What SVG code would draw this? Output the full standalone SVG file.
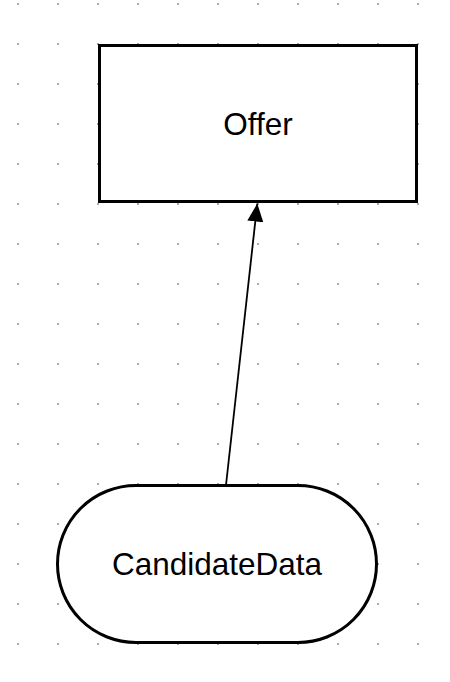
<svg xmlns="http://www.w3.org/2000/svg" width="450" height="682" viewBox="0 0 450 682">
  <defs>
    <pattern id="grid" x="0" y="0" width="40" height="40" patternUnits="userSpaceOnUse">
      <rect x="17" y="3" width="2" height="2" fill="#aaaaaa"/>
    </pattern>
    <marker id="arrow" viewBox="0 0 18 16" refX="18" refY="8" markerWidth="18" markerHeight="16" markerUnits="userSpaceOnUse" orient="auto">
      <path d="M0,0 L18,8 L0,16 Z" fill="#000"/>
    </marker>
    <style>
      .shape { fill: #ffffff; stroke: #000000; stroke-width: 3; }
      .label { font-family: "Liberation Sans", Arial, sans-serif; font-size: 31.5px; fill: #000; text-anchor: middle; }
      .edge { stroke: #000; stroke-width: 1.8; fill: none; }
    </style>
  </defs>
  <rect x="0" y="0" width="450" height="682" fill="#ffffff"/>
  <rect x="0" y="0" width="450" height="682" fill="url(#grid)"/>
  <g id="connectors">
    <line class="edge" x1="226" y1="485" x2="257.3" y2="203.5" marker-end="url(#arrow)"/>
  </g>
  <g id="node-offer">
    <rect class="shape" x="99.5" y="45.5" width="317" height="156"/>
    <text class="label" x="258" y="135">Offer</text>
  </g>
  <g id="node-candidatedata">
    <rect class="shape" x="57.5" y="485.5" width="319" height="157" rx="78.5" ry="78.5"/>
    <text class="label" x="217" y="575">CandidateData</text>
  </g>
</svg>
